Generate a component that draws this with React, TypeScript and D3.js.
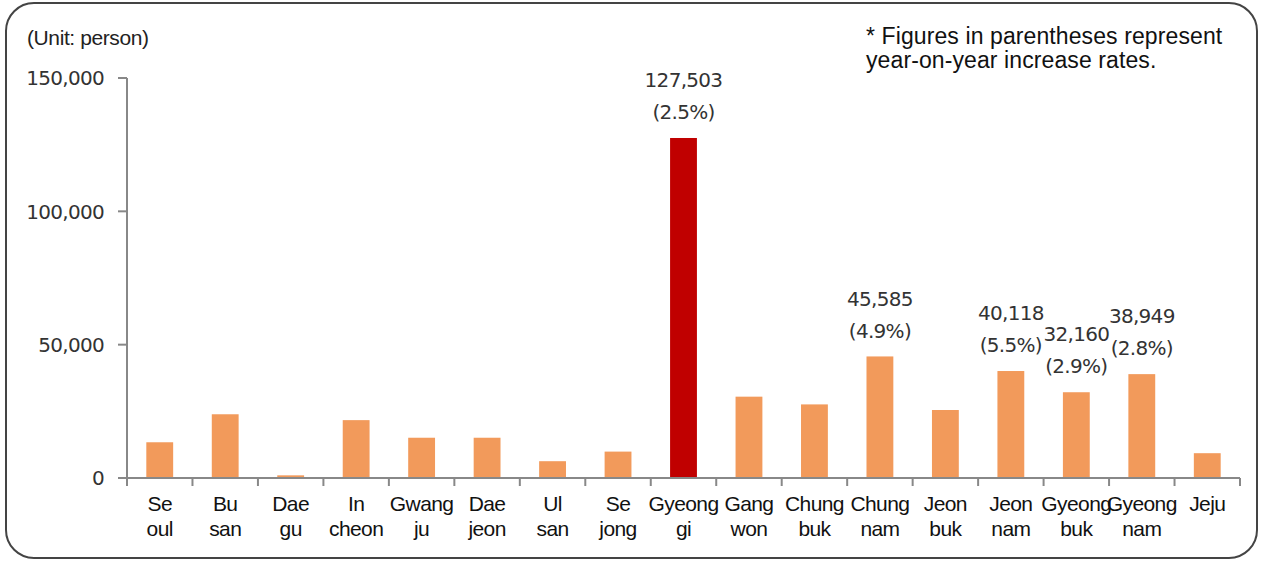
import React from "react";
import * as d3 from "d3";

const categories = [
  "Se\noul", "Bu\nsan", "Dae\ngu", "In\ncheon", "Gwang\nju", "Dae\njeon", "Ul\nsan", "Se\njong",
  "Gyeong\ngi", "Gang\nwon", "Chung\nbuk", "Chung\nnam", "Jeon\nbuk", "Jeon\nnam", "Gyeong\nbuk", "Gyeong\nnam", "Jeju",
];
const values = [13400, 23900, 1000, 21700, 15100, 15100, 6300, 9900, 127503, 30500, 27600, 45585, 25500, 40118, 32160, 38949, 9300];
const rates: (string | null)[] = [null, null, null, null, null, null, null, null, "(2.5%)", null, null, "(4.9%)", null, "(5.5%)", "(2.9%)", "(2.8%)", null];
const highlighted = ["Gyeong\ngi"];
const yTicks = [0, 50000, 100000, 150000];

const W = 1262;
const H = 562;

export default function App() {
  const x = d3.scaleBand<string>().domain(categories).range([127, 1240]).paddingInner(0.59).paddingOuter(0.295);
  const xb = d3.scaleBand<string>().domain(categories).range([127, 1240]);
  const y = d3.scaleLinear().domain([0, 150000]).range([478, 78]);
  const fmt = d3.format(",");
  const numFont = "'DejaVu Sans', Verdana, sans-serif";
  const txtFont = "'Liberation Sans', Arial, sans-serif";

  return (
    <svg width={W} height={H} style={{ position: "absolute", left: 0, top: 0, background: "#fff" }}>
      <rect x={6} y={3} width={1251} height={555} rx={28} ry={28} fill="#fff" stroke="#444" strokeWidth={2} />
      <text x={27} y={45} fontFamily={txtFont} fontSize={21} fill="#222" letterSpacing={-0.4}>(Unit: person)</text>
      <text x={866} y={44} fontFamily={txtFont} fontSize={23} fill="#111" letterSpacing={0.1}>* Figures in parentheses represent</text>
      <text x={866} y={68} fontFamily={txtFont} fontSize={23} fill="#111" letterSpacing={0.1}>year-on-year increase rates.</text>

      {/* y axis */}
      <line x1={127} x2={127} y1={y(150000)} y2={y(0)} stroke="#888" strokeWidth={2} />
      {yTicks.map((t) => (
        <g key={t}>
          <line x1={118} x2={127} y1={y(t)} y2={y(t)} stroke="#888" strokeWidth={2} />
          <text x={104} y={y(t)} dy="0.36em" textAnchor="end" fontFamily={numFont} fontSize={20} fill="#333" letterSpacing={-0.7}>
            {fmt(t)}
          </text>
        </g>
      ))}

      {/* bars */}
      {categories.map((c, i) => (
        <rect key={c} x={x(c)} y={y(values[i])} width={x.bandwidth()} height={y(0) - y(values[i])}
          fill={highlighted.includes(c) ? "#C00000" : "#F29A5B"} />
      ))}

      {/* x axis */}
      <line x1={127} x2={1240} y1={y(0)} y2={y(0)} stroke="#888" strokeWidth={2} />
      {categories.map((c) => (
        <line key={"t" + c} x1={xb(c)} x2={xb(c)} y1={y(0)} y2={y(0) + 8} stroke="#888" strokeWidth={2} />
      ))}
      <line x1={1240} x2={1240} y1={y(0)} y2={y(0) + 8} stroke="#888" strokeWidth={2} />

      {categories.map((c) => {
        const cx = (xb(c) as number) + xb.bandwidth() / 2;
        return (
          <text key={"l" + c} textAnchor="middle" fontFamily={txtFont} fontSize={21} fill="#111" letterSpacing={-0.6}>
            {c.split("\n").map((ln, k) => (
              <tspan key={k} x={cx} y={511 + k * 25}>{ln}</tspan>
            ))}
          </text>
        );
      })}

      {/* value labels */}
      {categories.map((c, i) => {
        if (!rates[i]) return null;
        const cx = (xb(c) as number) + xb.bandwidth() / 2;
        const top = y(values[i]);
        return (
          <g key={"v" + c} fontFamily={numFont} fontSize={20} fill="#333" textAnchor="middle" letterSpacing={-0.7}>
            <text x={cx} y={top - 58} dy="0.36em">{fmt(values[i])}</text>
            <text x={cx} y={top - 26} dy="0.36em">{rates[i]}</text>
          </g>
        );
      })}
    </svg>
  );
}
